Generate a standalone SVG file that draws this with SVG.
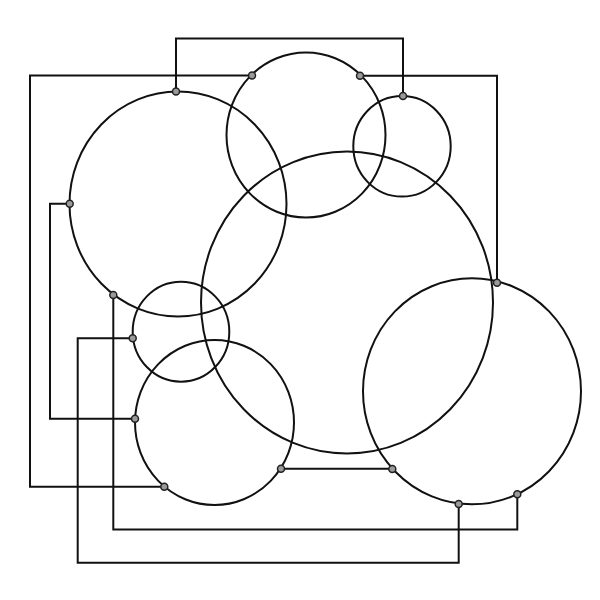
<svg xmlns="http://www.w3.org/2000/svg" width="600" height="600" viewBox="0 0 600 600">
<style>
.ring{fill:none;stroke:#111;stroke-width:2}
.wire{fill:none;stroke:#111;stroke-width:2}
.port{fill:#9a9a9a;stroke:#222;stroke-width:1.5}
</style>
<rect width="600" height="600" fill="#fff"/>
<g id="connectors">
<path class="wire" d="M176,91.5 V38.5 H403 V96"/>
<path class="wire" d="M252,75.5 H30 V486.7 H164.3"/>
<path class="wire" d="M360,75.7 H497 V282.7"/>
<path class="wire" d="M69.7,203.7 H50 V418.7 H135"/>
<path class="wire" d="M113.3,295 V529.5 H517.3 V494.3"/>
<path class="wire" d="M132.7,338.3 H77.7 V562.7 H458.7 V504"/>
<path class="wire" d="M281,468.7 H392.3"/>
</g>
<g id="node1">
<ellipse class="ring" cx="178" cy="204" rx="108.5" ry="112.5"/>
<circle class="port" cx="176" cy="91.5" r="3.5"/>
<circle class="port" cx="69.7" cy="203.7" r="3.5"/>
<circle class="port" cx="113.3" cy="295" r="3.5"/>
</g>
<g id="node2">
<ellipse class="ring" cx="306" cy="135" rx="79.5" ry="82.5"/>
<circle class="port" cx="252" cy="75.5" r="3.5"/>
<circle class="port" cx="360" cy="75.7" r="3.5"/>
</g>
<g id="node3">
<ellipse class="ring" cx="402" cy="146.3" rx="48.7" ry="50.3"/>
<circle class="port" cx="403" cy="96" r="3.5"/>
</g>
<g id="node4">
<ellipse class="ring" cx="347" cy="302.5" rx="146" ry="151"/>
</g>
<g id="node5">
<ellipse class="ring" cx="472" cy="391.3" rx="109" ry="113"/>
<circle class="port" cx="497" cy="282.7" r="3.5"/>
<circle class="port" cx="392.3" cy="469" r="3.5"/>
<circle class="port" cx="458.7" cy="504" r="3.5"/>
<circle class="port" cx="517.3" cy="494.3" r="3.5"/>
</g>
<g id="node6">
<ellipse class="ring" cx="181" cy="331.7" rx="48.3" ry="50"/>
<circle class="port" cx="132.7" cy="338.3" r="3.5"/>
</g>
<g id="node7">
<ellipse class="ring" cx="214.5" cy="422.5" rx="79.5" ry="82.5"/>
<circle class="port" cx="135" cy="418.7" r="3.5"/>
<circle class="port" cx="164.3" cy="486.7" r="3.5"/>
<circle class="port" cx="281" cy="468.7" r="3.5"/>
</g>
</svg>
